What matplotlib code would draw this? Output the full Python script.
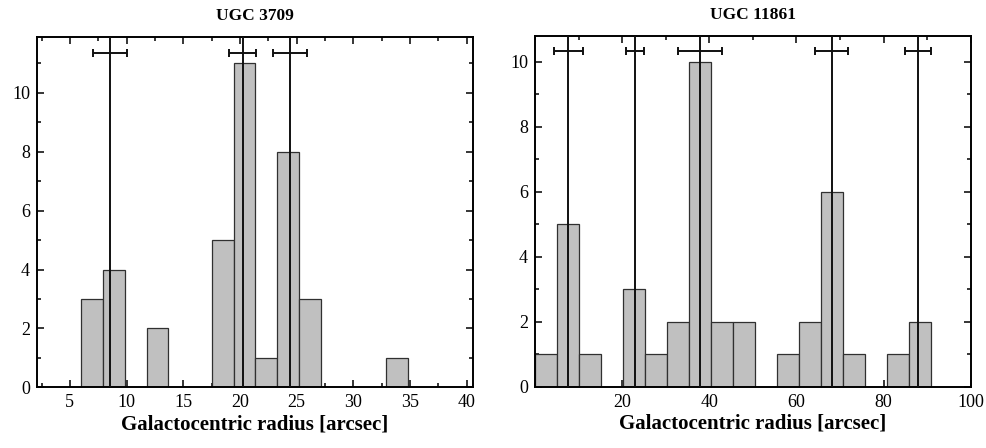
import numpy as np
import matplotlib.pyplot as plt
from matplotlib.ticker import MultipleLocator

plt.rcParams['font.family'] = ['Liberation Serif', 'DejaVu Serif']

# UGC 3709 histogram
ugc3709_start = 6.0
ugc3709_width = 1.92
ugc3709_counts = [3, 4, 0, 2, 0, 0, 5, 11, 1, 8, 3, 0, 0, 0, 1]
ugc3709_peaks = [8.55, 20.25, 24.45]
ugc3709_errs = [1.5, 1.2, 1.5]
ugc3709_err_y = 11.37

# UGC 11861 histogram
ugc11861_start = 0.05
ugc11861_width = 5.04
ugc11861_counts = [1, 5, 1, 0, 3, 1, 2, 10, 2, 2, 0, 1, 2, 6, 1, 0, 1, 2]
ugc11861_peaks = [7.65, 22.9, 37.9, 68.1, 87.9]
ugc11861_errs = [3.3, 2.1, 5.05, 3.85, 3.05]
ugc11861_err_y = 10.33

fig = plt.figure(figsize=(9.86, 4.48), dpi=100)
ax1 = fig.add_axes([0.0375, 0.1355, 0.4422, 0.782])
ax2 = fig.add_axes([0.5426, 0.1368, 0.4419, 0.7828])


def draw_panel(ax, start, width, counts, peaks, errs, err_y, title):
    counts = np.array(counts)
    lefts = start + width * np.arange(len(counts))
    keep = counts > 0
    ax.bar(lefts[keep], counts[keep], width=width, align='edge',
           color='#c0c0c0', edgecolor='#303030', linewidth=0.9, zorder=2)
    for p in peaks:
        ax.axvline(p, color='#101010', linewidth=1.4, zorder=3)
    ax.errorbar(peaks, [err_y] * len(peaks), xerr=errs, fmt='none',
                ecolor='#101010', elinewidth=1.4, capsize=3, capthick=1.4, zorder=3)
    ax.set_title(title, fontsize=12.5, fontweight='bold', pad=12)
    ax.set_xlabel('Galactocentric radius [arcsec]', fontsize=15,
                  fontweight='bold', labelpad=2)
    ax.tick_params(which='both', direction='in', top=True, right=True,
                   labelsize=13, width=1.1)
    ax.tick_params(which='major', length=5, pad=5)
    ax.tick_params(which='minor', length=3)
    for s in ax.spines.values():
        s.set_linewidth(1.4)


draw_panel(ax1, ugc3709_start, ugc3709_width, ugc3709_counts,
           ugc3709_peaks, ugc3709_errs, ugc3709_err_y, 'UGC 3709')
ax1.set_xlim(2.1, 40.55)
ax1.set_ylim(0, 11.9)
ax1.xaxis.set_major_locator(MultipleLocator(5))
ax1.xaxis.set_minor_locator(MultipleLocator(2.5))
ax1.yaxis.set_major_locator(MultipleLocator(2))
ax1.yaxis.set_minor_locator(MultipleLocator(1))

draw_panel(ax2, ugc11861_start, ugc11861_width, ugc11861_counts,
           ugc11861_peaks, ugc11861_errs, ugc11861_err_y, 'UGC 11861')
ax2.set_xlim(0, 100)
ax2.set_ylim(0, 10.8)
ax2.set_xticks([20, 40, 60, 80, 100])
ax2.xaxis.set_minor_locator(MultipleLocator(10))
ax2.yaxis.set_major_locator(MultipleLocator(2))
ax2.yaxis.set_minor_locator(MultipleLocator(1))

fig.savefig('out.png', dpi=100)
